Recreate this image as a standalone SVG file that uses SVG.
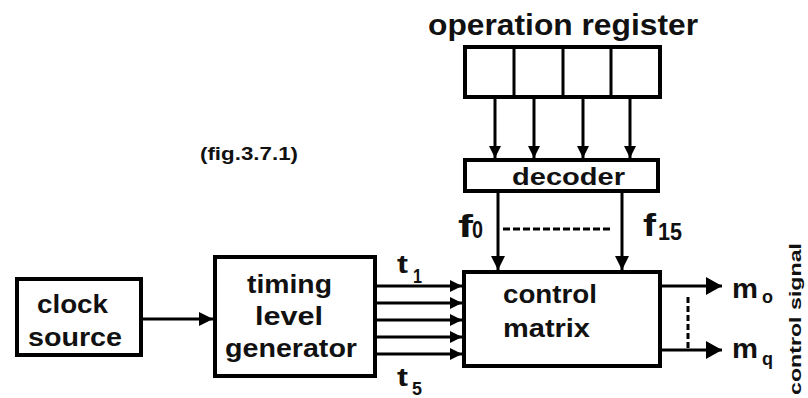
<svg xmlns="http://www.w3.org/2000/svg" width="808" height="398" viewBox="0 0 808 398">
<style>
.box{fill:#fff;stroke:#000;stroke-width:4}
.ln{fill:none;stroke:#000;stroke-width:3}
text{font-family:"Liberation Sans",Arial,sans-serif;font-weight:bold;fill:#111}
</style>
<defs>
<marker id="a1" markerUnits="userSpaceOnUse" markerWidth="12" markerHeight="12" refX="12" refY="6" orient="auto"><path d="M0,0L12,6L0,12z" fill="#000"/></marker>
<marker id="a2" markerUnits="userSpaceOnUse" markerWidth="14" markerHeight="14" refX="14" refY="7" orient="auto"><path d="M0,0L14,7L0,14z" fill="#000"/></marker>
<marker id="a3" markerUnits="userSpaceOnUse" markerWidth="16" markerHeight="18" refX="16" refY="9" orient="auto"><path d="M0,0L16,9L0,18z" fill="#000"/></marker>
</defs>
<rect width="808" height="398" fill="#fff"/>
<text x="200" y="160" font-size="19" textLength="98" lengthAdjust="spacingAndGlyphs">(fig.3.7.1)</text>
<g id="operation-register">
<text x="428" y="35" font-size="30" textLength="270" lengthAdjust="spacingAndGlyphs">operation register</text>
<rect class="box" x="465" y="47" width="195" height="50"/>
<path class="ln" d="M514,47V97M563,47V97M611,47V97" stroke-width="4"/>
</g>
<g id="decoder">
<rect class="box" x="465" y="160" width="193" height="31"/>
<text x="512" y="185" font-size="23" textLength="113" lengthAdjust="spacingAndGlyphs">decoder</text>
</g>
<g id="clock-source">
<rect class="box" x="17" y="279" width="124" height="76"/>
<text x="37" y="313" font-size="25" textLength="71" lengthAdjust="spacingAndGlyphs">clock</text>
<text x="28" y="346" font-size="25" textLength="94" lengthAdjust="spacingAndGlyphs">source</text>
</g>
<g id="timing-level-generator">
<rect class="box" x="215" y="257" width="160" height="119"/>
<text x="247" y="293" font-size="25" textLength="85" lengthAdjust="spacingAndGlyphs">timing</text>
<text x="255" y="325" font-size="25" textLength="68" lengthAdjust="spacingAndGlyphs">level</text>
<text x="225" y="357" font-size="25" textLength="132" lengthAdjust="spacingAndGlyphs">generator</text>
</g>
<g id="control-matrix">
<rect class="box" x="464" y="272" width="196" height="94"/>
<text x="503" y="303" font-size="25" textLength="94" lengthAdjust="spacingAndGlyphs">control</text>
<text x="503" y="337" font-size="25" textLength="87" lengthAdjust="spacingAndGlyphs">matrix</text>
</g>
<g id="connectors">
<line class="ln" x1="495" y1="99" x2="495" y2="158" marker-end="url(#a1)"/>
<line class="ln" x1="534" y1="99" x2="534" y2="158" marker-end="url(#a1)"/>
<line class="ln" x1="583" y1="99" x2="583" y2="158" stroke-width="4" marker-end="url(#a1)"/>
<line class="ln" x1="630" y1="99" x2="630" y2="158" marker-end="url(#a1)"/>
<line class="ln" x1="498" y1="193" x2="498" y2="270" marker-end="url(#a2)"/>
<line class="ln" x1="622" y1="193" x2="622" y2="270" marker-end="url(#a2)"/>
<line class="ln" x1="503" y1="229" x2="612" y2="229" stroke-dasharray="7 3"/>
<line class="ln" x1="143" y1="319" x2="213" y2="319" marker-end="url(#a2)"/>
<line class="ln" x1="377" y1="286" x2="462" y2="286" stroke-width="4" marker-end="url(#a1)"/>
<line class="ln" x1="377" y1="303" x2="462" y2="303" stroke-width="4" marker-end="url(#a1)"/>
<line class="ln" x1="377" y1="320" x2="462" y2="320" stroke-width="4" marker-end="url(#a1)"/>
<line class="ln" x1="377" y1="337" x2="462" y2="337" stroke-width="4" marker-end="url(#a1)"/>
<line class="ln" x1="377" y1="354" x2="462" y2="354" stroke-width="4" marker-end="url(#a1)"/>
<line class="ln" x1="662" y1="286" x2="722" y2="286" stroke-width="4" marker-end="url(#a3)"/>
<line class="ln" x1="662" y1="350" x2="722" y2="350" stroke-width="4" marker-end="url(#a3)"/>
<line class="ln" x1="688" y1="297" x2="688" y2="350" stroke-dasharray="6 3"/>
</g>
<g id="labels">
<text x="458" y="237" font-size="32" textLength="15" lengthAdjust="spacingAndGlyphs">f</text>
<text x="472" y="238" font-size="24" textLength="11" lengthAdjust="spacingAndGlyphs">0</text>
<text x="643" y="236" font-size="32" textLength="13" lengthAdjust="spacingAndGlyphs">f</text>
<text x="658" y="240" font-size="23" textLength="24" lengthAdjust="spacingAndGlyphs">15</text>
<text x="397" y="273" font-size="26" textLength="11" lengthAdjust="spacingAndGlyphs">t</text>
<text x="413" y="283" font-size="20" textLength="9" lengthAdjust="spacingAndGlyphs">1</text>
<text x="397" y="386" font-size="26" textLength="11" lengthAdjust="spacingAndGlyphs">t</text>
<text x="412" y="395" font-size="19" textLength="10" lengthAdjust="spacingAndGlyphs">5</text>
<text x="732" y="298" font-size="28" textLength="26" lengthAdjust="spacingAndGlyphs">m</text>
<text x="762" y="303" font-size="18" textLength="11" lengthAdjust="spacingAndGlyphs">o</text>
<text x="732" y="358" font-size="28" textLength="26" lengthAdjust="spacingAndGlyphs">m</text>
<text x="762" y="365" font-size="18" textLength="11" lengthAdjust="spacingAndGlyphs">q</text>
<text transform="translate(801,395) rotate(-90)" font-size="17" textLength="152" lengthAdjust="spacingAndGlyphs">control signal</text>
</g>
</svg>
